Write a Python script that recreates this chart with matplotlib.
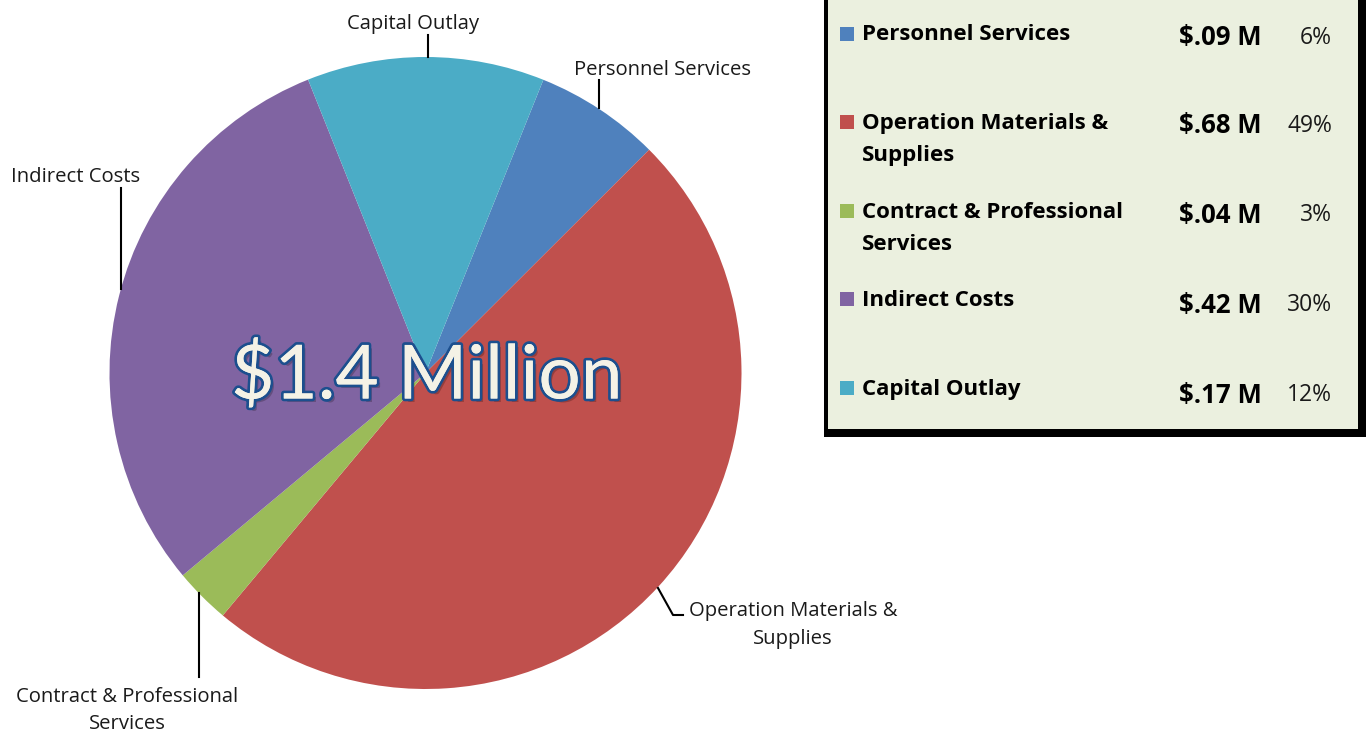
import matplotlib
matplotlib.use("Agg")
import matplotlib.pyplot as plt
import matplotlib.patheffects as pe
from matplotlib.patches import Rectangle

# Budget categories (clockwise from the Personnel Services slice)
categories = ["Personnel Services", "Operation Materials & Supplies",
              "Contract & Professional Services", "Indirect Costs", "Capital Outlay"]
amounts_musd = [0.09, 0.68, 0.04, 0.42, 0.17]
amount_labels = ["$.09 M", "$.68 M", "$.04 M", "$.42 M", "$.17 M"]
percent_labels = ["6%", "49%", "3%", "30%", "12%"]
legend_names = ["Personnel Services", "Operation Materials &\nSupplies",
                "Contract & Professional\nServices", "Indirect Costs", "Capital Outlay"]
colors = ["#4F81BD", "#C0504D", "#9BBB59", "#8064A2", "#4BACC6"]
total_label = "$1.4 Million"

W, H = 1367, 734
fig = plt.figure(figsize=(W / 100, H / 100), dpi=100)
ax = fig.add_axes([0, 0, 1, 1])


def py(y):
    """Convert a top-down pixel row into the axes' bottom-up coordinate."""
    return H - y


# Pie
cx, cy, r = 425.5, py(373), 316
ax.pie(amounts_musd, colors=colors, startangle=68.1, counterclock=False,
       center=(cx, cy), radius=r, frame=True,
       wedgeprops=dict(linewidth=0))
ax.set_xlim(0, W)
ax.set_ylim(0, H)
ax.set_aspect("equal")
ax.axis("off")

label_font = dict(family=["Open Sans", "DejaVu Sans"], fontsize=14.6, color="#1a1a1a")

# Slice labels with leader lines
ax.plot([428, 428], [py(35), py(57)], color="black", lw=1.5)
ax.text(413, py(24), "Capital Outlay", ha="center", va="center", **label_font)

ax.plot([599, 599], [py(80), py(108)], color="black", lw=1.5)
ax.text(662, py(70), "Personnel Services", ha="center", va="center", **label_font)

ax.plot([121, 121], [py(188), py(289)], color="black", lw=1.5)
ax.text(76, py(177), "Indirect Costs", ha="center", va="center", **label_font)

ax.plot([199, 199], [py(593), py(677)], color="black", lw=1.5)
ax.text(127, py(697), "Contract & Professional", ha="center", va="center", **label_font)
ax.text(127, py(724), "Services", ha="center", va="center", **label_font)

ax.plot([658, 673, 683], [py(588), py(615), py(615)], color="black", lw=1.5)
ax.text(793, py(611), "Operation Materials &", ha="center", va="center", **label_font)
ax.text(793, py(639), "Supplies", ha="center", va="center", **label_font)

# Central total
ax.text(427, py(376), total_label, ha="center", va="center",
        family=["Lato", "DejaVu Sans"], fontsize=53.8, color="#F4F2E6",
        path_effects=[pe.SimplePatchShadow(offset=(2.5, -2.5), shadow_rgbFace="black", alpha=0.22),
                      pe.withStroke(linewidth=4, foreground="#1C4F8E"),
                      pe.Normal()])

# Legend panel with dark shadow border
ax.add_patch(Rectangle((824, py(437)), 1366 - 824, 437 + 5, facecolor="black",
                       edgecolor="none", zorder=5))
ax.add_patch(Rectangle((828, py(429)), 1358 - 828, 429 + 5, facecolor="#EBF0DF",
                       edgecolor="none", zorder=6))

row_y = [35, 123, 212, 300, 389]
value_y = [38, 126, 215, 305, 395]
name_font = dict(family=["Open Sans", "DejaVu Sans"], fontsize=16, fontweight="bold",
                 color="black", zorder=7)
value_font = dict(family=["Open Sans", "DejaVu Sans"], fontsize=18.5, fontweight="bold",
                  color="black", zorder=7)
pct_font = dict(family=["Open Sans", "DejaVu Sans"], fontsize=16.5, color="#1a1a1a", zorder=7)
for name, amt, pct, col, ty, vy in zip(legend_names, amount_labels, percent_labels,
                                       colors, row_y, value_y):
    ax.add_patch(Rectangle((840, py(ty + 6)), 14, 14, facecolor=col, edgecolor="none",
                           zorder=7))
    for i, line in enumerate(name.split("\n")):
        ax.text(862, py(ty + 32 * i), line, ha="left", va="center", **name_font)
    ax.text(1262, py(vy), amt, ha="right", va="center", **value_font)
    ax.text(1332, py(vy), pct, ha="right", va="center", **pct_font)

fig.savefig("out.png", dpi=100)
